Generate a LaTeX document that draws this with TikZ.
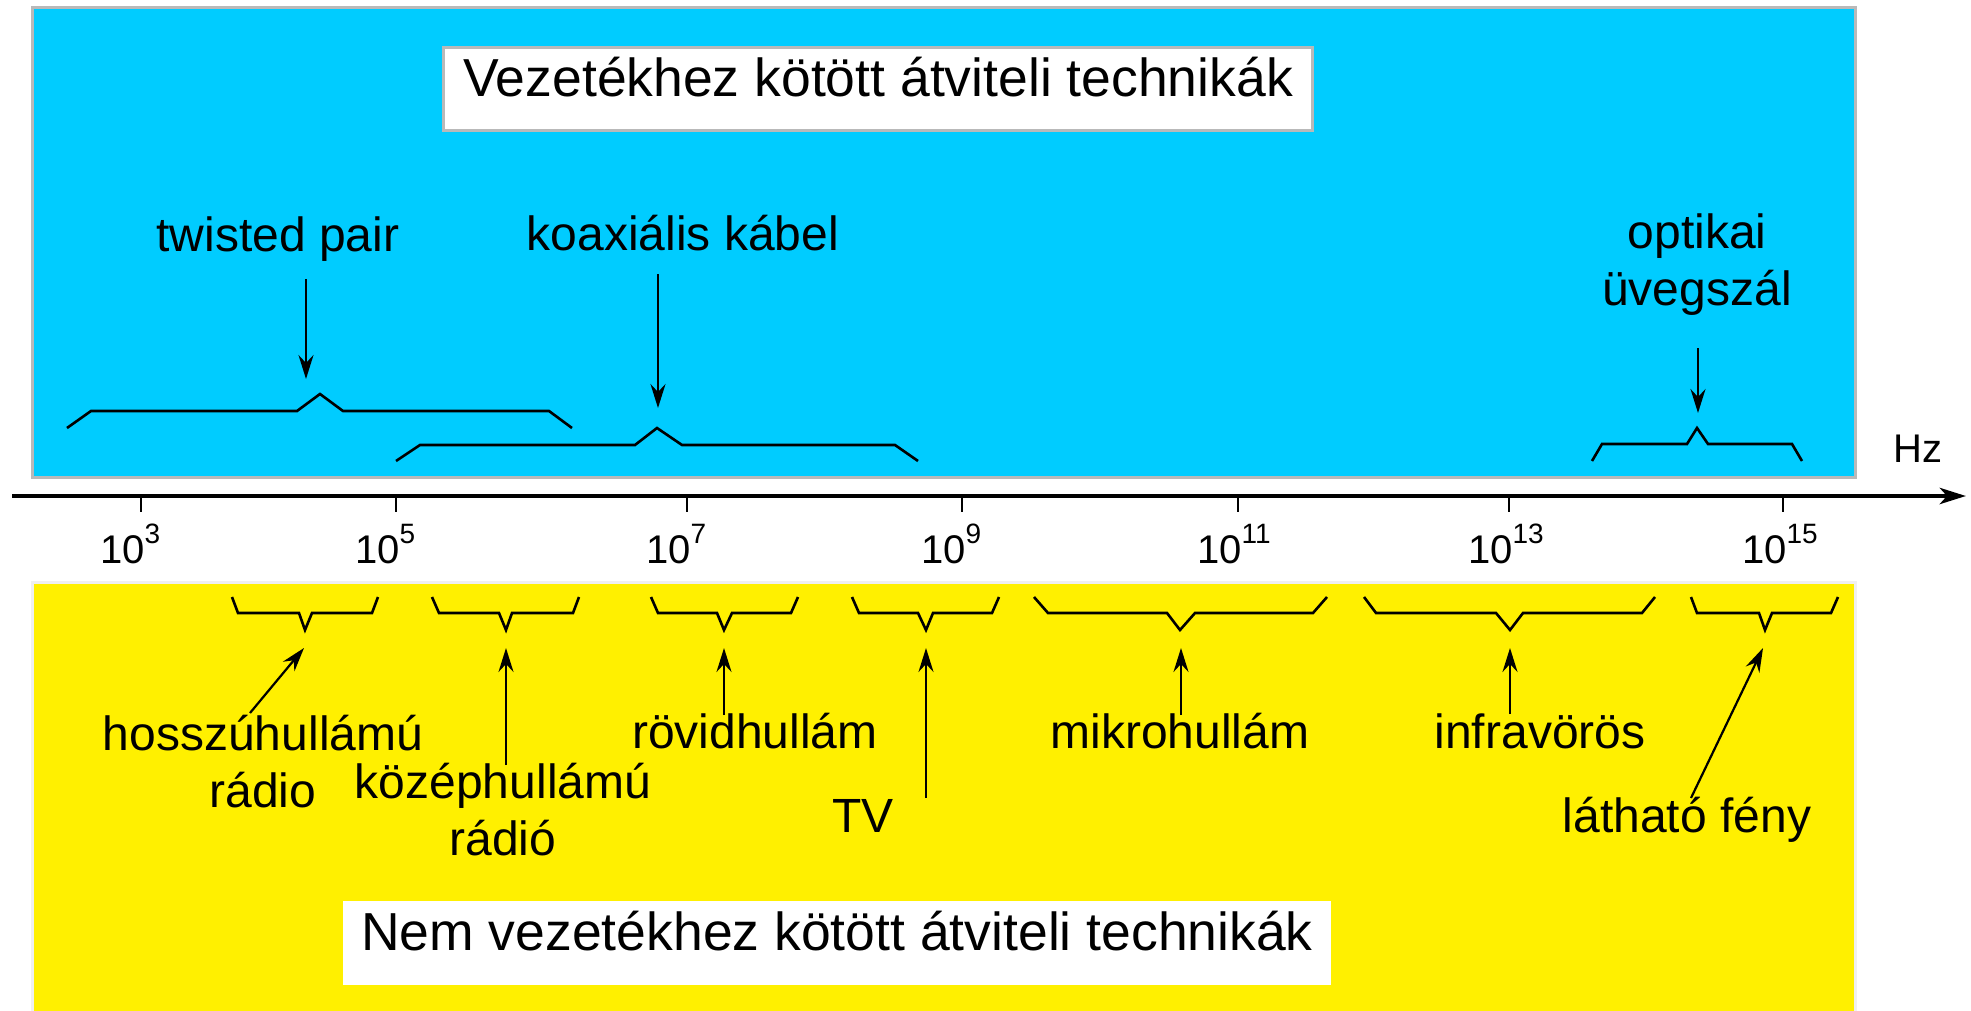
\documentclass[tikz,border=0pt]{standalone}
\usepackage{fontspec}
\setmainfont{Liberation Sans}
\usetikzlibrary{arrows.meta}
\definecolor{wiredblue}{RGB}{0,204,255}
\definecolor{wlessyellow}{RGB}{255,240,0}
\newcommand{\tenpow}[1]{10\rlap{\raisebox{10pt}{\fontsize{14}{14}\selectfont #1}}}

\begin{document}
\begin{tikzpicture}[x=0.5pt,y=-0.5pt,
    lbl/.style={font=\fontsize{24}{28.5}\selectfont, inner sep=0pt, align=center, anchor=base},
    ticklbl/.style={font=\fontsize{20}{24}\selectfont, inner sep=0pt, anchor=base east},
    titlebox/.style={font=\fontsize{26.75}{32}\selectfont, fill=white, inner sep=0pt,
      text height=0.72em, text depth=0pt},
    bracket/.style={line width=1.3pt, line join=miter},
    pointer/.style={line width=1.1pt, -{Stealth[length=12pt,width=7.5pt,inset=4pt]}},
    tickmark/.style={line width=1.3pt}]
  \useasboundingbox (0,0) rectangle (1971,1011);

  % backgrounds
  \filldraw[fill=wiredblue, draw=gray!55, line width=1.5pt] (32,8) rectangle (1855,477);
  \filldraw[fill=wlessyellow, draw=gray!12, line width=1.5pt] (32,582) rectangle (1855,1014);

  \node[titlebox, draw=gray!55, line width=1.5pt, minimum width=434.5pt, minimum height=41.5pt]
    (wired) at (878,89) {Vezetékhez kötött átviteli technikák};
  \node[titlebox, minimum width=494pt, minimum height=42pt]
    (wless) at (837,943) {Nem vezetékhez kötött átviteli technikák};

  % frequency axis
  \coordinate (axstart) at (12,496);
  \coordinate (axend) at (1966,496);
  \draw[line width=2.4pt, -{Stealth[length=13pt,width=8pt,inset=3.5pt]}] (axstart) -- (axend);
  \node[font=\fontsize{20}{24}\selectfont, inner sep=0pt, anchor=base west] (hz) at (1893,462) {Hz};

  \draw[tickmark] (141,496) -- (141,512);
  \draw[tickmark] (396,496) -- (396,512);
  \draw[tickmark] (687,496) -- (687,512);
  \draw[tickmark] (962,496) -- (962,512);
  \draw[tickmark] (1238,496) -- (1238,512);
  \draw[tickmark] (1509,496) -- (1509,512);
  \draw[tickmark] (1783,496) -- (1783,512);
  \node[ticklbl] (f3) at (145,563) {\tenpow{3}};
  \node[ticklbl] (f5) at (400,563) {\tenpow{5}};
  \node[ticklbl] (f7) at (691,563) {\tenpow{7}};
  \node[ticklbl] (f9) at (966,563) {\tenpow{9}};
  \node[ticklbl] (f11) at (1242,563) {\tenpow{11}};
  \node[ticklbl] (f13) at (1513,563) {\tenpow{13}};
  \node[ticklbl] (f15) at (1787,563) {\tenpow{15}};

  % wired ranges
  \draw[bracket] (67,428) -- (91,411) -- (297,411) -- (320,394) -- (343,411) -- (549,411) -- (572,428);
  \draw[bracket] (396,461) -- (420,445) -- (635,445) -- (657,428) -- (682,445) -- (895,445) -- (918,461);
  \draw[bracket] (1592,461) -- (1602,444) -- (1687,444) -- (1697,428) -- (1708,444) -- (1792,444) -- (1802,461);

  \node[lbl] (tp) at (278,251) {twisted pair};
  \node[lbl] (coax) at (683,250) {koaxiális kábel};
  \node[lbl] (optic) at (1697,305) {optikai\\üvegszál};

  \coordinate (tpfrom) at (306,279);
  \coordinate (tpto) at (306,379);
  \coordinate (coaxfrom) at (658,274);
  \coordinate (coaxto) at (658,408);
  \coordinate (opticfrom) at (1698,348);
  \coordinate (opticto) at (1698,413);
  \draw[pointer] (tpfrom) -- (tpto);
  \draw[pointer] (coaxfrom) -- (coaxto);
  \draw[pointer] (opticfrom) -- (opticto);

  % wireless ranges
  \draw[bracket] (232,597) -- (238,613) -- (299,613) -- (305,630) -- (312,613) -- (372,613) -- (378,597);
  \draw[bracket] (432,597) -- (439,613) -- (499,613) -- (506,630) -- (512,613) -- (573,613) -- (579,597);
  \draw[bracket] (651,597) -- (658,613) -- (717,613) -- (724,630) -- (732,613) -- (791,613) -- (798,597);
  \draw[bracket] (852,597) -- (859,613) -- (918,613) -- (926,630) -- (933,613) -- (992,613) -- (999,597);
  \draw[bracket] (1034,597) -- (1048,613) -- (1167,613) -- (1180,630) -- (1195,613) -- (1313,613) -- (1327,597);
  \draw[bracket] (1364,597) -- (1376,613) -- (1496,613) -- (1510,630) -- (1523,613) -- (1642,613) -- (1655,597);
  \draw[bracket] (1691,597) -- (1697,613) -- (1759,613) -- (1765,630) -- (1772,613) -- (1831,613) -- (1838,597);

  \node[lbl] (lw) at (263,807) {hosszúhullámú\\rádio};
  \node[lbl] (mw) at (503,855) {középhullámú\\rádió};
  \node[lbl] (sw) at (755,748) {rövidhullám};
  \node[lbl] (tv) at (863,832) {TV};
  \node[lbl] (micro) at (1180,748) {mikrohullám};
  \node[lbl] (ir) at (1540,748) {infravörös};
  \node[lbl] (light) at (1687,832) {látható fény};

  \coordinate (lwfrom) at (250,713);
  \coordinate (lwto) at (304,648);
  \coordinate (mwfrom) at (506,765);
  \coordinate (mwto) at (506,648);
  \coordinate (swfrom) at (724,715);
  \coordinate (swto) at (724,648);
  \coordinate (tvfrom) at (926,798);
  \coordinate (tvto) at (926,648);
  \coordinate (microfrom) at (1181,715);
  \coordinate (microto) at (1181,648);
  \coordinate (irfrom) at (1510,714);
  \coordinate (irto) at (1510,648);
  \coordinate (lightfrom) at (1691,798);
  \coordinate (lightto) at (1763,648);
  \draw[pointer] (lwfrom) -- (lwto);
  \draw[pointer] (mwfrom) -- (mwto);
  \draw[pointer] (swfrom) -- (swto);
  \draw[pointer] (tvfrom) -- (tvto);
  \draw[pointer] (microfrom) -- (microto);
  \draw[pointer] (irfrom) -- (irto);
  \draw[pointer] (lightfrom) -- (lightto);
\end{tikzpicture}
\end{document}
